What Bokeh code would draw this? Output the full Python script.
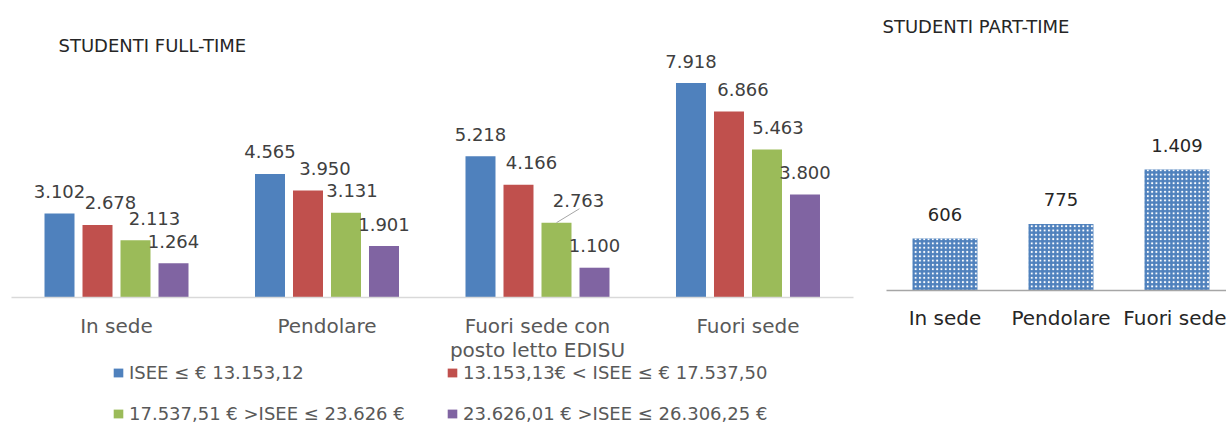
from bokeh.plotting import figure
from bokeh.layouts import row
from bokeh.models import (Range1d, LinearAxis, FixedTicker, Label, Legend, LegendItem)
from bokeh.core.properties import value
from bokeh.embed import file_html
from bokeh.resources import INLINE

# ---------------- data ----------------
categories_ft = ["In sede", "Pendolare", "Fuori sede con\nposto letto EDISU", "Fuori sede"]
series_names = ["ISEE \u2264 \u20ac 13.153,12",
                "13.153,13\u20ac < ISEE \u2264 \u20ac 17.537,50",
                "17.537,51 \u20ac >ISEE \u2264 23.626 \u20ac",
                "23.626,01 \u20ac >ISEE \u2264 26.306,25 \u20ac"]
isee1 = [3102, 4565, 5218, 7918]
isee2 = [2678, 3950, 4166, 6866]
isee3 = [2113, 3131, 2763, 5463]
isee4 = [1264, 1901, 1100, 3800]

categories_pt = ["In sede", "Pendolare", "Fuori sede"]
part_time = [606, 775, 1409]

# ---------------- style ----------------
FONT = "DejaVu Sans"
colors = ["#4F81BD", "#C0504D", "#9BBB59", "#8064A2"]
label_dx = [[0, 0, 0, 0], [13, 17, 13, 14], [19, 6, 22, 11], [0, 0, 0, 0]]


def fmt(v):
    return f"{v:,}".replace(",", ".")


# ---------------- left chart ----------------
W1, H1 = 870, 424
x1r = Range1d(-0.0511, 4.082)
y1r = Range1d(-4690, 10968)
p1 = figure(width=W1, height=H1, x_range=x1r, y_range=y1r, output_backend="svg",
            toolbar_location=None, x_axis_location=None, y_axis_location=None, min_border=0)
p1.outline_line_color = None
p1.xgrid.visible = False
p1.ygrid.visible = False

px_x = (x1r.end - x1r.start) / W1
px_y = (y1r.end - y1r.start) / H1
bar_w = 30 * px_x
step = 38 * px_x

renderers = []
for j, vals in enumerate([isee1, isee2, isee3, isee4]):
    xs = [i + 0.5 + (j - 1.5) * step for i in range(len(vals))]
    r = p1.vbar(x=xs, top=vals, width=bar_w, fill_color=colors[j], line_color=None)
    renderers.append(r)
    p1.text(x=xs, y=vals, text=[fmt(v) for v in vals], x_offset=label_dx[j], y_offset=-22,
            text_align="center", text_baseline="middle", text_font=value(FONT),
            text_font_size="18px", text_color="#404040")
    if j == 2:
        # leader line for the shifted label of "Fuori sede con posto letto EDISU"
        k = 2
        p1.segment(x0=[xs[k]], y0=[vals[k]], x1=[xs[k] + 23 * px_x], y1=[vals[k] + 14 * px_y],
                   line_color="#A6A6A6", line_width=1)

ax1 = LinearAxis(ticker=FixedTicker(ticks=[0.5, 1.5, 2.5, 3.5]),
                 major_label_overrides={i + 0.5: c for i, c in enumerate(categories_ft)},
                 fixed_location=0, bounds=(0, 4))
ax1.axis_line_color = "#D9D9D9"
ax1.axis_line_width = 1.5
ax1.major_tick_line_color = None
ax1.minor_tick_line_color = None
ax1.major_label_standoff = 10
ax1.major_label_text_font = FONT
ax1.major_label_text_font_size = "20px"
ax1.major_label_text_color = "#595959"
ax1.major_label_text_line_height = 1.0
p1.add_layout(ax1, "below")

p1.add_layout(Label(x=58, y=379, x_units="screen", y_units="screen", text="STUDENTI FULL-TIME",
                    text_font=FONT, text_font_size="18px", text_color="#262626",
                    text_baseline="middle"))

for cols_idx, x0 in [([0, 2], 112), ([1, 3], 446)]:
    leg = Legend(items=[LegendItem(label=series_names[k], renderers=[renderers[k]]) for k in cols_idx],
                 location=(x0, 0), orientation="vertical", padding=0, margin=0, spacing=20,
                 glyph_width=12, glyph_height=11, label_standoff=5,
                 label_text_font=FONT, label_text_font_size="18px", label_text_color="#595959",
                 border_line_color=None, background_fill_alpha=0)
    p1.add_layout(leg, "center")

# ---------------- right chart ----------------
W2, H2 = 356, 424
x2r = Range1d(-0.142, 2.927)
y2r = Range1d(-1562, 3380)
p2 = figure(width=W2, height=H2, x_range=x2r, y_range=y2r, output_backend="svg",
            toolbar_location=None, x_axis_location=None, y_axis_location=None, min_border=0)
p2.outline_line_color = None
p2.xgrid.visible = False
p2.ygrid.visible = False
xs2 = [i + 0.5 for i in range(len(part_time))]
p2.vbar(x=xs2, top=part_time, width=0.56, fill_color="#4F81BD", line_color=None,
        hatch_pattern="dot", hatch_color="white", hatch_scale=4.3, hatch_weight=2)
p2.text(x=xs2, y=part_time, text=[fmt(v) for v in part_time], y_offset=-24,
        text_align="center", text_baseline="middle", text_font=value(FONT),
        text_font_size="18px", text_color="#262626")
ax2 = LinearAxis(ticker=FixedTicker(ticks=xs2),
                 major_label_overrides={i + 0.5: c for i, c in enumerate(categories_pt)},
                 fixed_location=0, bounds=(0, 3))
ax2.axis_line_color = "#A6A6A6"
ax2.axis_line_width = 1.5
ax2.major_tick_line_color = None
ax2.minor_tick_line_color = None
ax2.major_label_standoff = 10
ax2.major_label_text_font = FONT
ax2.major_label_text_font_size = "20px"
ax2.major_label_text_color = "#262626"
p2.add_layout(ax2, "below")
p2.add_layout(Label(x=12, y=398, x_units="screen", y_units="screen", text="STUDENTI PART-TIME",
                    text_font=FONT, text_font_size="18px", text_color="#262626",
                    text_baseline="middle"))

layout = row(p1, p2, spacing=0)
open("out.html", "w").write(file_html(layout, INLINE))
